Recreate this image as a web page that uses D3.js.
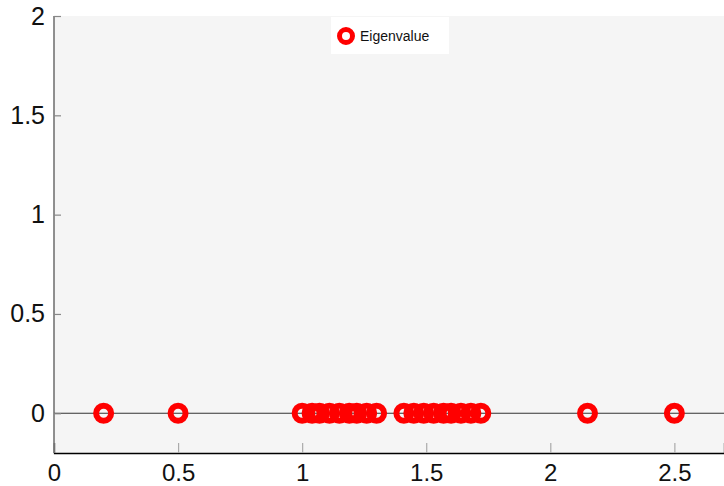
<!DOCTYPE html>
<html>
<head>
<meta charset="utf-8">
<script src="https://cdn.jsdelivr.net/npm/d3@7"></script>
<style>
  html, body { margin: 0; padding: 0; background: #fff; }
  svg { display: block; }
  text { font-family: "Liberation Sans", sans-serif; }
</style>
</head>
<body>
<svg id="chart" width="724" height="486"></svg>
<script>
// Eigenvalues plotted on the real axis
const eigenvalues = [0.2, 0.5,
  1.0, 1.04, 1.07, 1.11, 1.15, 1.19, 1.22, 1.26, 1.30,
  1.41, 1.45, 1.49, 1.53, 1.57, 1.60, 1.64, 1.68, 1.72,
  2.15, 2.5];
const imagParts = eigenvalues.map(() => 0);
const xTicks = [0, 0.5, 1, 1.5, 2, 2.5];
const yTicks = [0, 0.5, 1, 1.5, 2];
const seriesName = "Eigenvalue";

const svg = d3.select("#chart");
const W = 724, H = 486;
const margin = { left: 54, right: 0, top: 16, bottom: 33 };

const x = d3.scaleLinear().domain([0, 2.7]).range([margin.left, W - margin.right]);
const y = d3.scaleLinear().domain([-0.2, 2]).range([H - margin.bottom, margin.top]);

// plot area background
svg.append("rect")
  .attr("x", x(0)).attr("y", y(2))
  .attr("width", x(2.7) - x(0)).attr("height", y(-0.2) - y(2))
  .attr("fill", "#f5f5f5");

// zero line
svg.append("line")
  .attr("x1", x(0)).attr("x2", x(2.7))
  .attr("y1", y(0)).attr("y2", y(0))
  .attr("stroke", "#333").attr("stroke-width", 1.2);

// x axis
const xAxis = svg.append("g")
  .attr("transform", `translate(0,${y(-0.2)})`)
  .call(d3.axisBottom(x).tickValues(xTicks).tickSize(-10).tickPadding(11)
    .tickFormat(d => String(d)));
xAxis.select(".domain").attr("stroke", "#000").attr("stroke-width", 1.3);
xAxis.selectAll(".tick line").attr("stroke", "#aaa").attr("stroke-width", 1.2);
xAxis.selectAll(".tick text").attr("font-size", 24).attr("fill", "#111")
  .attr("font-family", "Liberation Sans, sans-serif");

// y axis
const yAxis = svg.append("g")
  .attr("transform", `translate(${x(0)},0)`)
  .call(d3.axisLeft(y).tickValues(yTicks).tickSize(-7).tickPadding(9)
    .tickFormat(d => String(d)));
yAxis.select(".domain").attr("stroke", "#555").attr("stroke-width", 1.3)
  .attr("d", `M0,${y(2)}V${y(-0.2)}`);
yAxis.selectAll(".tick line").attr("stroke", "#888").attr("stroke-width", 1.2);
yAxis.selectAll(".tick text").attr("font-size", 25).attr("fill", "#111")
  .attr("font-family", "Liberation Sans, sans-serif");

// eigenvalue markers
svg.append("g").selectAll("circle")
  .data(eigenvalues)
  .join("circle")
  .attr("cx", d => x(d))
  .attr("cy", (d, i) => y(imagParts[i]))
  .attr("r", 7.5)
  .attr("fill", "none")
  .attr("stroke", "#ff0000")
  .attr("stroke-width", 6);

// legend
const legend = svg.append("g").attr("transform", "translate(331,17)");
legend.append("rect").attr("width", 118).attr("height", 37).attr("fill", "#fff");
legend.append("circle").attr("cx", 15).attr("cy", 19).attr("r", 6.5)
  .attr("fill", "none").attr("stroke", "#ff0000").attr("stroke-width", 5);
legend.append("text").attr("x", 29).attr("y", 23.5)
  .attr("font-size", 14).attr("fill", "#111").text(seriesName);
</script>
</body>
</html>
